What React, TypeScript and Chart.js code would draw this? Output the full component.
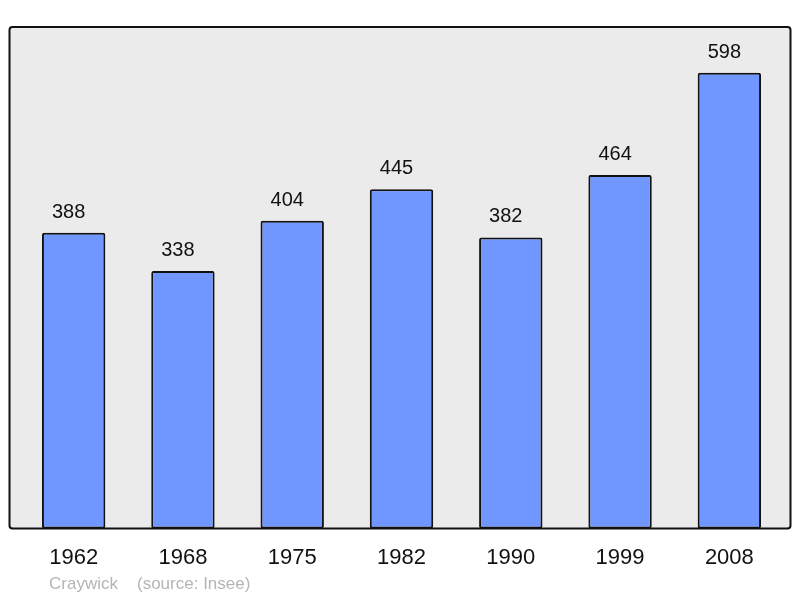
import React, { useEffect, useRef } from "react";
import { Chart, registerables } from "chart.js";

Chart.register(...registerables);

const years = ["1962", "1968", "1975", "1982", "1990", "1999", "2008"];
const population = [388, 338, 404, 445, 382, 464, 598];
const footerPlace = "Craywick";
const footerSource = "(source: Insee)";

const FONT = "'Liberation Sans', Arial, sans-serif";

const panelPlugin = {
  id: "panel",
  beforeDraw(chart: any) {
    const { ctx, chartArea } = chart;
    const l = chartArea.left - 9.5;
    const r = chartArea.right + 6.5;
    const t = chartArea.top;
    const b = chartArea.bottom;
    ctx.save();
    ctx.beginPath();
    if (ctx.roundRect) ctx.roundRect(l, t, r - l, b - t, 3);
    else ctx.rect(l, t, r - l, b - t);
    ctx.fillStyle = "#ebebeb";
    ctx.fill();
    ctx.restore();
  },
  afterDatasetsDraw(chart: any) {
    const { ctx, chartArea } = chart;
    const l = chartArea.left - 9.5;
    const r = chartArea.right + 6.5;
    const t = chartArea.top;
    const b = chartArea.bottom;
    ctx.save();
    ctx.beginPath();
    if (ctx.roundRect) ctx.roundRect(l, t, r - l, b - t, 3);
    else ctx.rect(l, t, r - l, b - t);
    ctx.lineWidth = 2;
    ctx.strokeStyle = "#111";
    ctx.stroke();

    // value labels
    const meta = chart.getDatasetMeta(0);
    ctx.fillStyle = "#111";
    ctx.font = `20px ${FONT}`;
    ctx.textAlign = "center";
    ctx.textBaseline = "alphabetic";
    meta.data.forEach((bar: any, i: number) => {
      ctx.fillText(String(chart.data.datasets[0].data[i]), bar.x - 5, bar.y - 15);
    });

    // footer
    ctx.fillStyle = "#b5b5b5";
    ctx.font = `17px ${FONT}`;
    ctx.textAlign = "left";
    ctx.fillText(footerPlace, 49, 589);
    ctx.fillText(footerSource, 137, 589);
    ctx.restore();
  },
};

export default function App() {
  const ref = useRef<HTMLCanvasElement>(null);
  useEffect(() => {
    if (!ref.current) return;
    const chart = new Chart(ref.current, {
      type: "bar",
      data: {
        labels: years,
        datasets: [
          {
            data: population,
            backgroundColor: "#7096ff",
            borderColor: "#111",
            borderWidth: 2,
            borderRadius: 2,
            borderSkipped: false,
            barPercentage: 0.58,
            categoryPercentage: 1,
          },
        ],
      },
      options: {
        animation: false,
        responsive: false,
        maintainAspectRatio: false,
        layout: { padding: { left: 19, right: 16, top: 27, bottom: 11 } },
        plugins: {
          legend: { display: false },
          tooltip: { enabled: false },
          title: { display: false },
        },
        scales: {
          x: {
            grid: { display: false, drawTicks: false },
            border: { display: false },
            ticks: {
              color: "#111",
              font: { size: 22, family: FONT },
              padding: 16,
            },
          },
          y: {
            display: false,
            min: 0,
            max: 658,
          },
        },
      },
      plugins: [panelPlugin],
    });
    return () => chart.destroy();
  }, []);
  return (
    <div style={{ position: "absolute", left: 0, top: 0, width: 800, height: 598, background: "#fff" }}>
      <canvas ref={ref} width={800} height={598} />
    </div>
  );
}
